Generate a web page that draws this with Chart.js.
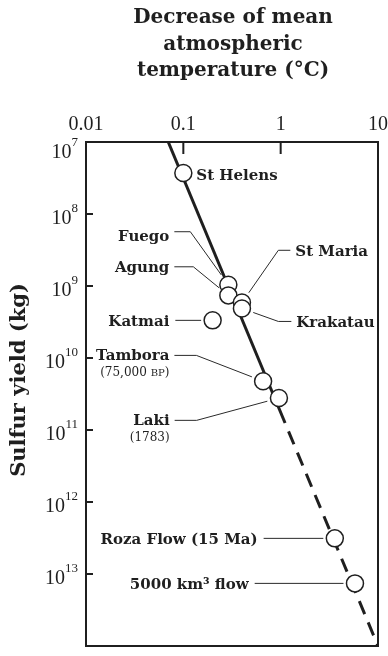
<!DOCTYPE html>
<html>
<head>
<meta charset="utf-8">
<script src="https://cdn.jsdelivr.net/npm/chart.js@4/dist/chart.umd.min.js"></script>
<style>
  html, body { margin: 0; padding: 0; background: #fff; }
  #wrap { position: relative; width: 388px; height: 656px; }
</style>
</head>
<body>
<div id="wrap"><canvas id="c"></canvas></div>
<script>
// Eruptions: cooling of mean atmospheric temperature vs. sulfur released
const eruptions = ['St Helens', 'Fuego', 'Agung', 'St Maria', 'Krakatau', 'Katmai',
                   'Tambora', 'Laki', 'Roza Flow (15 Ma)', '5000 km³ flow'];
const eruptionNotes = ['', '', '', '', '', '', '(75,000 |BP|)', '(1783)', '', ''];
const coolingC = [0.10, 0.29, 0.29, 0.40, 0.40, 0.20, 0.66, 0.96, 3.6, 5.8];
const sulfurKg = [2.7e7, 9.6e8, 1.35e9, 1.7e9, 2.05e9, 3.0e9, 2.1e10, 3.6e10, 3.2e12, 1.35e13];

// Fitted relation: observed range (solid) and extrapolation (dashed)
const fitObservedC = [0.07, 1.11];
const fitObservedKg = [1e7, 8e10];
const fitExtrapC = [1.11, 10];
const fitExtrapKg = [8e10, 1e14];

// Axis ticks
const xTickValues = [0.01, 0.1, 1, 10];
const xTickLabels = ['0.01', '0.1', '1', '10'];
const yTickValues = [1e7, 1e8, 1e9, 1e10, 1e11, 1e12, 1e13];
const yTickExponents = ['7', '8', '9', '10', '11', '12', '13'];

const titleLines = ['Decrease of mean', 'atmospheric', 'temperature (°C)'];
const yTitle = 'Sulfur yield (kg)';

// Label placement, in pixels relative to each circle
const labelLayout = [
  { dx: 13,     dy: 1.5,   side: 'right' },
  { dx: -59,    dy: -49.3, side: 'left',  elbow: [-38, -53] },
  { dx: -59,    dy: -29.3, side: 'left',  elbow: [-35, -28.6] },
  { dx: 53.4,   dy: -52,   side: 'right', elbow: [36.4, -52.3] },
  { dx: 54.4,   dy: 13,    side: 'right', elbow: [36.4, 13] },
  { dx: -43.3,  dy: 0,     side: 'left',  straight: true },
  { dx: -93.7,  dy: -26.8, side: 'left',  elbow: [-66.7, -25.8] },
  { dx: -109.3, dy: 21,    side: 'left',  elbow: [-82.3, 22.3] },
  { dx: -77.2,  dy: 0,     side: 'left',  straight: true },
  { dx: -106.3, dy: 0,     side: 'left',  straight: true }
];

const INK = '#1f1f1f';
const POINT_R = 8.5;
const LABEL_FONT = 'bold 15px "DejaVu Serif"';
const NOTE_FONT = '12px "DejaVu Serif"';
const NOTE_SMALL = '10px "DejaVu Serif"';

function pts(xs, ys) { return xs.map((v, i) => ({ x: v, y: ys[i] })); }

// Draw a note where |...| segments are set in a smaller size (small caps)
function drawNote(ctx, text, xRight, yMid) {
  const parts = text.split('|').map((t, i) => ({ t, f: i % 2 ? NOTE_SMALL : NOTE_FONT }));
  let w = 0;
  parts.forEach(p => { ctx.font = p.f; w += ctx.measureText(p.t).width; });
  let x = xRight - w;
  ctx.textAlign = 'left';
  ctx.textBaseline = 'alphabetic';
  parts.forEach(p => {
    ctx.font = p.f;
    ctx.fillText(p.t, x, yMid + 4.5);
    x += ctx.measureText(p.t).width;
  });
}

const decorations = {
  id: 'decorations',
  afterDraw(chart) {
    const { ctx, chartArea: a, scales: { x, y } } = chart;
    ctx.save();
    ctx.fillStyle = INK;
    ctx.strokeStyle = INK;

    // plot frame
    ctx.lineWidth = 2;
    ctx.strokeRect(a.left, a.top, a.right - a.left, a.bottom - a.top);

    // inward tick marks
    ctx.beginPath();
    xTickValues.forEach(v => {
      const px = x.getPixelForValue(v);
      if (px > a.left + 1 && px < a.right - 1) { ctx.moveTo(px, a.top); ctx.lineTo(px, a.top + 12); }
    });
    yTickValues.forEach(v => {
      const py = y.getPixelForValue(v);
      if (py > a.top + 1 && py < a.bottom - 1) { ctx.moveTo(a.left, py); ctx.lineTo(a.left + 7, py); }
    });
    ctx.stroke();

    // x tick labels (top)
    ctx.font = '20px "Liberation Serif"';
    ctx.textAlign = 'center';
    ctx.textBaseline = 'alphabetic';
    xTickValues.forEach((v, i) => {
      ctx.fillText(xTickLabels[i], x.getPixelForValue(v), a.top - 12);
    });

    // y tick labels as powers of ten
    yTickValues.forEach((v, i) => {
      const py = y.getPixelForValue(v) + (i === 0 ? 9 : 3);
      ctx.font = '13px "Liberation Serif"';
      const ew = ctx.measureText(yTickExponents[i]).width;
      const xr = a.left - 8;
      ctx.textAlign = 'right';
      ctx.fillText(yTickExponents[i], xr, py - 5);
      ctx.font = '20px "Liberation Serif"';
      ctx.fillText('10', xr - ew, py + 7);
    });

    // title over the plot
    ctx.font = 'bold 20px "DejaVu Serif"';
    ctx.textAlign = 'center';
    const cx = (a.left + a.right) / 2 + 1;
    [23, 50, 76].forEach((by, i) => ctx.fillText(titleLines[i], cx, by));

    // y axis title
    ctx.save();
    ctx.font = 'bold 21px "DejaVu Serif"';
    ctx.translate(25, 380);
    ctx.rotate(-Math.PI / 2);
    ctx.textAlign = 'center';
    ctx.fillText(yTitle, 0, 0);
    ctx.restore();

    // eruption labels with leader lines
    ctx.lineWidth = 1;
    ctx.strokeStyle = '#2a2a2a';
    eruptions.forEach((name, i) => {
      const L = labelLayout[i];
      const px = x.getPixelForValue(coolingC[i]);
      const py = y.getPixelForValue(sulfurKg[i]);
      const tx = px + L.dx, ty = py + L.dy;
      ctx.font = LABEL_FONT;
      ctx.textAlign = L.side === 'left' ? 'right' : 'left';
      ctx.textBaseline = 'alphabetic';
      ctx.fillText(name, tx, ty + 5.5);
      if (eruptionNotes[i]) drawNote(ctx, eruptionNotes[i], tx, ty + 17.5);

      if (L.straight) {
        ctx.beginPath();
        ctx.moveTo(tx + 6, py);
        ctx.lineTo(px - POINT_R - 3, py);
        ctx.stroke();
      } else if (L.elbow) {
        const ex = px + L.elbow[0], ey = py + L.elbow[1];
        const sx = L.side === 'left' ? tx + 5 : tx - 5;
        const ddx = px - ex, ddy = py - ey, len = Math.hypot(ddx, ddy);
        const stop = (len - POINT_R - 3.5) / len;
        ctx.beginPath();
        ctx.moveTo(sx, ey);
        ctx.lineTo(ex, ey);
        ctx.lineTo(ex + ddx * stop, ey + ddy * stop);
        ctx.stroke();
      }
    });
    ctx.restore();
  }
};

new Chart(document.getElementById('c'), {
  type: 'scatter',
  data: {
    datasets: [
      {
        data: pts(coolingC, sulfurKg),
        order: 0,
        pointRadius: POINT_R,
        pointHoverRadius: POINT_R,
        pointBorderWidth: 1.5,
        pointBackgroundColor: '#fff',
        pointBorderColor: INK
      },
      {
        data: pts(fitObservedC, fitObservedKg),
        order: 1,
        showLine: true,
        pointRadius: 0,
        borderWidth: 3,
        borderColor: INK,
        borderCapStyle: 'butt'
      },
      {
        data: pts(fitExtrapC, fitExtrapKg),
        order: 2,
        showLine: true,
        pointRadius: 0,
        borderWidth: 3,
        borderColor: INK,
        borderDash: [14, 9],
        borderDashOffset: 14,
        borderCapStyle: 'butt'
      }
    ]
  },
  options: {
    responsive: true,
    maintainAspectRatio: false,
    animation: false,
    events: [],
    layout: { padding: { left: 86, top: 142, right: 10, bottom: 3 } },
    plugins: { legend: { display: false }, tooltip: { enabled: false }, title: { display: false } },
    scales: {
      x: { type: 'logarithmic', position: 'top', min: 0.01, max: 10, display: false },
      y: { type: 'logarithmic', reverse: true, min: 1e7, max: 1e14, display: false }
    }
  },
  plugins: [decorations]
});
</script>
</body>
</html>
